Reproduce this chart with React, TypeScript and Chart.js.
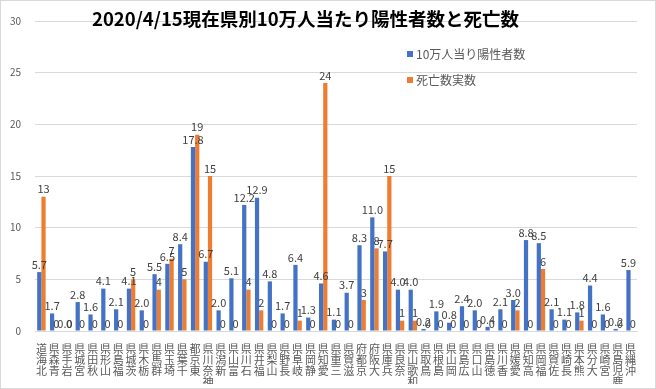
import React, { useEffect, useRef } from "react";
import { Chart, registerables } from "chart.js";

Chart.register(...registerables);

const prefectures = [
  "北海道", "青森県", "岩手県", "宮城県", "秋田県", "山形県", "福島県", "茨城県", "栃木県", "群馬県",
  "埼玉県", "千葉県", "東京都", "神奈川県", "新潟県", "富山県", "石川県", "福井県", "山梨県", "長野県",
  "岐阜県", "静岡県", "愛知県", "三重県", "滋賀県", "京都府", "大阪府", "兵庫県", "奈良県", "和歌山県",
  "鳥取県", "島根県", "岡山県", "広島県", "山口県", "徳島県", "香川県", "愛媛県", "高知県", "福岡県",
  "佐賀県", "長崎県", "熊本県", "大分県", "宮崎県", "鹿児島県", "沖縄県",
];

const positivesPer100k = [
  5.7, 1.7, 0.0, 2.8, 1.6, 4.1, 2.1, 4.1, 2.0, 5.5,
  6.5, 8.4, 17.8, 6.7, 2.0, 5.1, 12.2, 12.9, 4.8, 1.7,
  6.4, 1.3, 4.6, 1.1, 3.7, 8.3, 11.0, 7.7, 4.0, 4.0,
  0.2, 1.9, 0.8, 2.4, 2.0, 0.4, 2.1, 3.0, 8.8, 8.5,
  2.1, 1.1, 1.8, 4.4, 1.6, 0.2, 5.9,
];

const deaths = [
  13, 0, 0, 0, 0, 0, 0, 5, 0, 4,
  7, 5, 19, 15, 0, 0, 4, 2, 0, 0,
  1, 0, 24, 0, 0, 3, 8, 15, 1, 1,
  0, 0, 0, 0, 0, 0, 0, 2, 0, 6,
  0, 0, 1, 0, 0, 0, 0,
];

const yTicks = [0, 5, 10, 15, 20, 25, 30];

const titleText = "2020/4/15現在県別10万人当たり陽性者数と死亡数";
const seriesNames = ["10万人当り陽性者数", "死亡数実数"];
const seriesColors = ["#4472C4", "#ED7D31"];

const FONT = "'Noto Sans CJK JP', 'Noto Sans', sans-serif";

const valueLabelPlugin = {
  id: "valueLabels",
  afterDatasetsDraw(chart: any) {
    const ctx = chart.ctx;
    ctx.save();
    ctx.font = `11px ${FONT}`;
    ctx.fillStyle = "#404040";
    ctx.textAlign = "center";
    ctx.textBaseline = "bottom";
    chart.data.datasets.forEach((ds: any, di: number) => {
      const meta = chart.getDatasetMeta(di);
      meta.data.forEach((bar: any, i: number) => {
        const v = ds.data[i];
        const txt = di === 0 ? Number(v).toFixed(1) : String(v);
        ctx.fillText(txt, bar.x, bar.y - 2);
      });
    });
    ctx.restore();
  },
};

export default function App() {
  const canvasRef = useRef<HTMLCanvasElement | null>(null);

  useEffect(() => {
    document.body.style.margin = "0";
    const labels = prefectures.map((p) => p.split("").reverse());
    const chart = new Chart(canvasRef.current as HTMLCanvasElement, {
      type: "bar",
      data: {
        labels,
        datasets: [
          {
            label: seriesNames[0],
            data: positivesPer100k,
            backgroundColor: seriesColors[0],
            categoryPercentage: 0.66,
            barPercentage: 1.0,
          },
          {
            label: seriesNames[1],
            data: deaths,
            backgroundColor: seriesColors[1],
            categoryPercentage: 0.66,
            barPercentage: 1.0,
          },
        ],
      },
      options: {
        animation: false,
        responsive: true,
        maintainAspectRatio: false,
        layout: { padding: { top: 0, left: 8, right: 18, bottom: 4 } },
        plugins: {
          legend: { display: false },
          title: { display: false },
          tooltip: { enabled: false },
        },
        scales: {
          x: {
            grid: { display: false, drawTicks: false },
            border: { display: true, color: "#d9d9d9" },
            afterFit(scale: any) {
              scale.height = 53;
            },
            ticks: {
              autoSkip: false,
              maxRotation: 0,
              minRotation: 0,
              padding: 12,
              color: "#595959",
              font: { family: FONT, size: 11, lineHeight: 1.0 },
            },
          },
          y: {
            min: 0,
            max: 30,
            afterBuildTicks(scale: any) {
              scale.ticks = yTicks.map((v) => ({ value: v }));
            },
            afterFit(scale: any) {
              scale.width = 26;
            },
            grid: { color: "#d9d9d9", drawTicks: false },
            border: { display: false },
            ticks: {
              stepSize: 5,
              padding: 14,
              color: "#595959",
              font: { family: FONT, size: 10 },
            },
          },
        },
      },
      plugins: [valueLabelPlugin],
    });
    return () => chart.destroy();
  }, []);

  return (
    <div
      style={{
        position: "relative",
        width: 656,
        height: 389,
        boxSizing: "border-box",
        border: "1px solid #d9d9d9",
        background: "#ffffff",
        fontFamily: FONT,
      }}
    >
      <canvas ref={canvasRef} />
      <div
        style={{
          position: "absolute",
          left: 91,
          top: 4,
          fontSize: 18.5,
          fontWeight: "bold",
          color: "#000000",
          whiteSpace: "nowrap",
          lineHeight: "26px",
        }}
      >
        {titleText}
      </div>
      {seriesNames.map((name, i) => (
        <div
          key={name}
          style={{
            position: "absolute",
            left: 406,
            top: 45 + i * 26,
            display: "flex",
            alignItems: "center",
            fontSize: 12,
            color: "#595959",
            whiteSpace: "nowrap",
            lineHeight: "16px",
          }}
        >
          <span
            style={{
              display: "inline-block",
              width: 6,
              height: 6,
              background: seriesColors[i],
              marginRight: 3,
            }}
          />
          {name}
        </div>
      ))}
    </div>
  );
}
